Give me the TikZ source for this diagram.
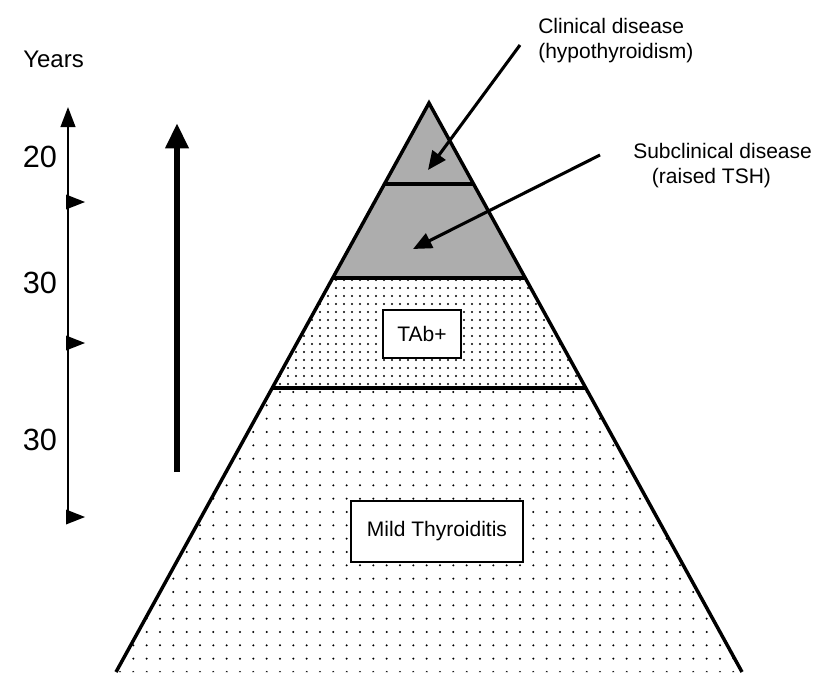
\documentclass[tikz,border=0pt]{standalone}
\usepackage{fontspec}
\setmainfont{Liberation Sans}
\usetikzlibrary{arrows.meta,patterns.meta}

\tikzset{
  layeredge/.style={line width=2.6pt},
  labelbox/.style={draw,line width=1.4pt,fill=white,inner sep=0pt},
  callout/.style={line width=2.3pt,-{Triangle[length=14pt,width=12pt]}},
}

\begin{document}
\begin{tikzpicture}[x=0.75pt,y=-0.75pt,line join=miter,
  font=\fontsize{15.75}{19}\selectfont]
\useasboundingbox (0,0) rectangle (820,672);
% pyramid corners, layer by layer
\coordinate (apex) at (429,103);
\coordinate (l1) at (384.4,184);  \coordinate (r1) at (473.6,184);
\coordinate (l2) at (332.8,278);  \coordinate (r2) at (525.2,278);
\coordinate (l3) at (272.2,388);  \coordinate (r3) at (585.8,388);
\coordinate (l4) at (116,672);    \coordinate (r4) at (742,672);
\begin{scope}
\clip (0,0) rectangle (820,672);
\fill[black!32] (apex) -- (r2) -- (l2) -- cycle;
\fill[pattern={Dots[distance=6pt,radius=0.8pt]}] (l2) -- (r2) -- (r3) -- (l3) -- cycle;
\fill[pattern={Dots[distance=10pt,radius=0.85pt]}] (l3) -- (r3) -- (r4) -- (l4) -- cycle;
\draw[layeredge] (l1) -- (r1);
\draw[layeredge] (l2) -- (r2);
\draw[layeredge] (l3) -- (r3);
\draw[layeredge] (l4) -- (apex) -- (r4);
\end{scope}
\node[labelbox,minimum width=58.5pt,minimum height=36pt] (tab) at (422,334) {TAb+};
\node[labelbox,minimum width=129pt,minimum height=45.75pt] (mild) at (437,531.5) {Mild Thyroiditis};
% labels and arrows on the right
\node[anchor=north west,align=left,inner sep=0pt] (clinical) at (538,18) {Clinical disease\\(hypothyroidism)};
\node[anchor=north west,align=left,inner sep=0pt] (subclinical) at (633,143) {Subclinical disease\\\hspace*{14pt}(raised TSH)};
\coordinate (clinical-tail) at (520,45);
\coordinate (clinical-tip) at (428,170);
\coordinate (subclinical-tail) at (600,155);
\coordinate (subclinical-tip) at (413,249);
\draw[callout] (clinical-tail) -- (clinical-tip);
\draw[callout] (subclinical-tail) -- (subclinical-tip);
% years axis
\node[anchor=base,font=\fontsize{18}{21}\selectfont] (years) at (53.5,67) {Years};
\coordinate (axis-bottom) at (68,523);
\coordinate (axis-top) at (68,107);
\draw[line width=1.5pt,-{Triangle[length=15pt,width=11pt]}] (axis-bottom) -- (axis-top);
\fill (66,194.5) -- (85,202) -- (66,209.5) -- cycle;
\fill (66,335.5) -- (85,343) -- (66,350.5) -- cycle;
\fill (66,509.5) -- (85,517) -- (66,524.5) -- cycle;
\node[anchor=base,font=\fontsize{23}{27}\selectfont] (age20) at (40,167) {20};
\node[anchor=base,font=\fontsize{23}{27}\selectfont] (age30a) at (40,293) {30};
\node[anchor=base,font=\fontsize{23}{27}\selectfont] (age30b) at (40,450) {30};
% progression arrow
\coordinate (prog-bottom) at (177,472);
\coordinate (prog-top) at (177,123);
\draw[line width=5.2pt,-{Triangle[length=19pt,width=16.5pt]}] (prog-bottom) -- (prog-top);
\end{tikzpicture}
\end{document}
